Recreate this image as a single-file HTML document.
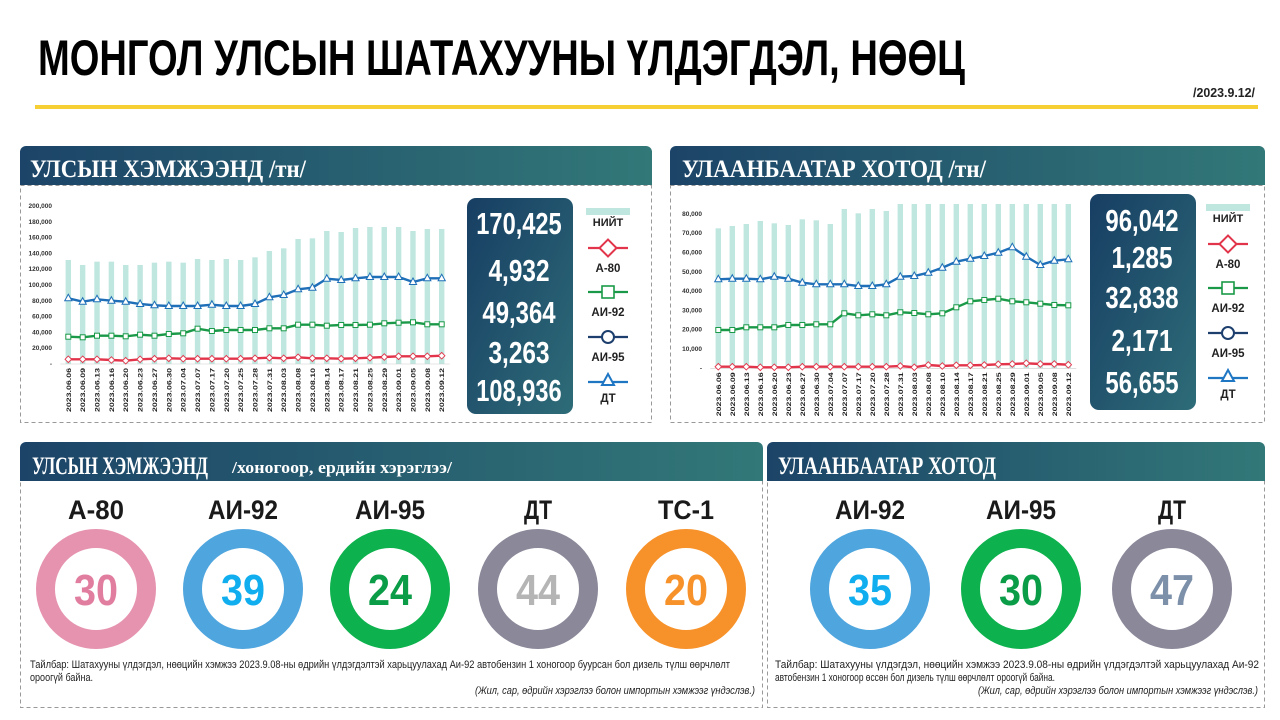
<!DOCTYPE html>
<html><head><meta charset="utf-8"><style>
html,body{margin:0;padding:0;background:#fff;width:1280px;height:720px;overflow:hidden}
svg{display:block}
</style></head><body>
<svg id="s" width="1280" height="720" xmlns="http://www.w3.org/2000/svg" font-family="Liberation Sans, sans-serif">
<defs>
<linearGradient id="hg" x1="0" x2="1" y1="0" y2="0"><stop offset="0" stop-color="#1c4468"/><stop offset="1" stop-color="#327878"/></linearGradient>
<linearGradient id="bg" x1="0" x2="1" y1="0" y2="1"><stop offset="0" stop-color="#173e63"/><stop offset="1" stop-color="#2e6c78"/></linearGradient>
</defs>
<text x="38" y="75" font-size="50" font-weight="bold" textLength="927" lengthAdjust="spacingAndGlyphs" fill="#000">МОНГОЛ УЛСЫН ШАТАХУУНЫ ҮЛДЭГДЭЛ, НӨӨЦ</text>
<text x="1255" y="97" font-size="13" font-weight="bold" text-anchor="end" textLength="62" lengthAdjust="spacingAndGlyphs" fill="#222">/2023.9.12/</text>
<rect x="35" y="105" width="1223" height="4" fill="#f5cf34"/>

<rect x="20.5" y="185.5" width="631" height="237" fill="none" stroke="#999" stroke-dasharray="4,3"/>
<path d="M20 185 V152 a6 6 0 0 1 6 -6 H646 a6 6 0 0 1 6 6 V185Z" fill="url(#hg)"/>
<text x="30" y="177" font-family="Liberation Serif, serif" font-weight="bold" font-size="25" fill="#fff" textLength="276" lengthAdjust="spacingAndGlyphs">УЛСЫН ХЭМЖЭЭНД /тн/</text>
<rect x="670.5" y="185.5" width="594" height="237" fill="none" stroke="#999" stroke-dasharray="4,3"/>
<path d="M670 185 V152 a6 6 0 0 1 6 -6 H1259 a6 6 0 0 1 6 6 V185Z" fill="url(#hg)"/>
<text x="682" y="177" font-family="Liberation Serif, serif" font-weight="bold" font-size="25" fill="#fff" textLength="304" lengthAdjust="spacingAndGlyphs">УЛААНБААТАР ХОТОД /тн/</text>

<rect x="20.5" y="480.5" width="742" height="227" fill="none" stroke="#999" stroke-dasharray="4,3"/>
<path d="M20 481 V448 a6 6 0 0 1 6 -6 H757 a6 6 0 0 1 6 6 V481Z" fill="url(#hg)"/>
<text x="32" y="474" font-family="Liberation Serif, serif" font-weight="bold" font-size="25" fill="#fff" textLength="176" lengthAdjust="spacingAndGlyphs">УЛСЫН ХЭМЖЭЭНД</text>
<text x="232" y="473" font-family="Liberation Serif, serif" font-weight="bold" font-size="17" fill="#fff" textLength="220" lengthAdjust="spacingAndGlyphs">/хоногоор, ердийн хэрэглээ/</text>
<rect x="767.5" y="480.5" width="497" height="227" fill="none" stroke="#999" stroke-dasharray="4,3"/>
<path d="M767 481 V448 a6 6 0 0 1 6 -6 H1259 a6 6 0 0 1 6 6 V481Z" fill="url(#hg)"/>
<text x="778" y="474" font-family="Liberation Serif, serif" font-weight="bold" font-size="25" fill="#fff" textLength="218" lengthAdjust="spacingAndGlyphs">УЛААНБААТАР ХОТОД</text>

<rect x="467" y="198" width="106" height="216" rx="9" fill="url(#bg)"/>
<rect x="1090" y="194" width="106" height="216" rx="9" fill="url(#bg)"/>
<g id="g"></g>

<text x="30" y="668" font-size="11" fill="#222" textLength="700" lengthAdjust="spacingAndGlyphs">Тайлбар: Шатахууны үлдэгдэл, нөөцийн хэмжээ 2023.9.08-ны өдрийн үлдэгдэлтэй харьцуулахад Аи-92 автобензин 1 хоногоор буурсан бол дизель түлш өөрчлөлт</text>
<text x="30" y="681" font-size="11" fill="#222" textLength="63" lengthAdjust="spacingAndGlyphs">ороогүй байна.</text>
<text x="755" y="694" font-size="11" font-style="italic" fill="#222" text-anchor="end" textLength="280" lengthAdjust="spacingAndGlyphs">(Жил, сар, өдрийн хэрэглээ болон импортын хэмжээг үндэслэв.)</text>
<text x="775" y="668" font-size="11" fill="#222" textLength="484" lengthAdjust="spacingAndGlyphs">Тайлбар: Шатахууны үлдэгдэл, нөөцийн хэмжээ 2023.9.08-ны өдрийн үлдэгдэлтэй харьцуулахад Аи-92</text>
<text x="775" y="681" font-size="11" fill="#222" textLength="280" lengthAdjust="spacingAndGlyphs">автобензин 1 хоногоор өссөн бол дизель түлш өөрчлөлт ороогүй байна.</text>
<text x="1258" y="694" font-size="11" font-style="italic" fill="#222" text-anchor="end" textLength="280" lengthAdjust="spacingAndGlyphs">(Жил, сар, өдрийн хэрэглээ болон импортын хэмжээг үндэслэв.)</text>
</svg>
<script>
var g=document.getElementById('g'),h='';
function T(x,y,s,t,o){h+='<text x="'+x+'" y="'+y+'" font-size="'+s+'" '+(o||'')+'>'+t+'</text>';}
var d1=['06.06','06.09','06.13','06.16','06.20','06.23','06.27','06.30','07.04','07.07','07.17','07.20','07.25','07.28','07.31','08.03','08.08','08.10','08.14','08.17','08.21','08.25','08.29','09.01','09.05','09.08','09.12'];
var b1=[210,225,215,215,225,225,218,215,218,207,210,207,210,202,183,175,147,145,123,126,114,111,111,111,123,117,117];
var dt1=[325,335,328,332,335,342,346,348,348,348,344,348,348,342,322,315,298,293,266,270,265,261,261,261,276,265,265];
var a92=[440,442,437,437,439,434,437,432,430,416,423,420,420,420,415,415,404,404,407,405,405,404,400,398,397,403,403];
var a80=[508,508,508,510,512,508,506,505,506,506,506,506,506,505,503,505,502,505,505,506,505,503,501,499,499,499,497];
function chart(d,b,dt,g2,r,x0,dx,zy,y0,zero,ylabs,ystep,ylx){
  var i,x;
  for(i=0;i<ylabs.length;i++){T(ylx,zero-i*ystep+2,6.5,ylabs[i],'text-anchor="end" fill="#333" font-weight="bold"');}
  for(i=0;i<d.length;i++){x=x0+i*dx;var top=zy(b[i]);h+='<rect x="'+(x-2.7)+'" y="'+top+'" width="5.4" height="'+(zero-top)+'" fill="#bfe6df"/>';}
  h+='<line x1="'+(x0-8)+'" x2="'+(x0+(d.length-1)*dx+8)+'" y1="'+zero+'" y2="'+zero+'" stroke="#ccc" stroke-width="0.6"/>';
  function line(arr,c){var p=[];for(var i=0;i<arr.length;i++)p.push((x0+i*dx).toFixed(1)+','+zy(arr[i]).toFixed(1));h+='<polyline points="'+p.join(' ')+'" fill="none" stroke="'+c+'" stroke-width="2.4"/>';return p;}
  var p=line(r,'#e2344a');p.forEach(function(q){q=q.split(',');h+='<rect x="'+(q[0]-2.3)+'" y="'+(q[1]-2.3)+'" width="4.6" height="4.6" fill="#fff" stroke="#e2344a" stroke-width="0.9" transform="rotate(45 '+q[0]+' '+q[1]+')"/>';});
  p=line(g2,'#1a9a48');p.forEach(function(q){q=q.split(',');h+='<rect x="'+(q[0]-2.5)+'" y="'+(q[1]-2.5)+'" width="5" height="5" fill="#fff" stroke="#1a9a48" stroke-width="1"/>';});
  p=line(dt,'#1f6fb8');p.forEach(function(q){q=q.split(',');var X=+q[0],Y=+q[1];h+='<polygon points="'+X+','+(Y-4)+' '+(X+3.6)+','+(Y+2.5)+' '+(X-3.6)+','+(Y+2.5)+'" fill="#fff" stroke="#1f6fb8" stroke-width="1"/>';});
  for(i=0;i<d.length;i++){x=x0+i*dx;h+='<text transform="translate('+(x+2.5)+','+(zero+48)+') rotate(-90)" font-size="6.5" font-weight="bold" fill="#222" textLength="44" lengthAdjust="spacingAndGlyphs">2023.'+d[i]+'</text>';}
}
chart(d1,b1,dt1,a92,a80,68.3,(441.7-68.3)/26,function(z){return 190+z/3;},0,364,
 ['-','20,000','40,000','60,000','80,000','100,000','120,000','140,000','160,000','180,000','200,000'],15.8,52);
var d2=['06.06','06.09','06.13','06.16','06.20','06.23','06.27','06.30','07.04','07.07','07.17','07.20','07.28','07.31','08.03','08.08','08.10','08.14','08.17','08.21','08.25','08.29','09.01','09.05','09.08','09.12'];
var b2=[115,108,102,93,100,105,88,91,102,57,70,57,63,42,42,42,42,42,42,42,42,42,42,42,42,42];
var dt2=[268,266,266,268,260,266,278,283,283,283,288,288,283,260,258,248,233,215,206,198,188,172,200,225,212,208];
var b92=[420,420,412,412,412,405,405,403,403,370,376,373,376,367,369,373,370,352,334,330,326,334,337,341,345,346];
var b80=[530,530,530,532,532,532,530,530,530,530,530,530,530,528,532,525,528,526,526,525,523,522,520,522,522,524];
chart(d2,b2,dt2,b92,b80,718.3,350/25,function(z){return 190+z/3;},0,368.3,
 ['-','10,000','20,000','30,000','40,000','50,000','60,000','70,000','80,000'],19.3,702);
function nums(cx,ys,v){for(var i=0;i<v.length;i++)T(cx,ys[i],31,v[i],'text-anchor="middle" font-weight="bold" fill="#fff" textLength="'+(v[i].length*12.2)+'" lengthAdjust="spacingAndGlyphs"');}
nums(519,[234,281,323,363,401],['170,425','4,932','49,364','3,263','108,936']);
nums(1142,[231,268,308,351,393],['96,042','1,285','32,838','2,171','56,655']);
function legend(x,y){
  h+='<rect x="'+(x-22)+'" y="'+(y-18)+'" width="44" height="7" fill="#bfe6df"/>';
  T(x,y,11,'НИЙТ','text-anchor="middle" font-weight="bold" fill="#222"');
  var c=['#e2344a','#1a9a48','#1d3f6e','#1f77c4'],n=['А-80','АИ-92','АИ-95','ДТ'],my=[y+22,y+66,y+111,y+156];
  for(var i=0;i<4;i++){var Y=my[i];h+='<line x1="'+(x-20)+'" x2="'+(x+20)+'" y1="'+Y+'" y2="'+Y+'" stroke="'+c[i]+'" stroke-width="2.2"/>';
   if(i==0)h+='<rect x="'+(x-6)+'" y="'+(Y-6)+'" width="12" height="12" fill="#fff" stroke="'+c[i]+'" stroke-width="2" transform="rotate(45 '+x+' '+Y+')"/>';
   if(i==1)h+='<rect x="'+(x-6)+'" y="'+(Y-6)+'" width="12" height="12" fill="#fff" stroke="'+c[i]+'" stroke-width="1.6"/>';
   if(i==2)h+='<circle cx="'+x+'" cy="'+Y+'" r="6" fill="#fff" stroke="'+c[i]+'" stroke-width="2"/>';
   if(i==3)h+='<polygon points="'+x+','+(Y-8)+' '+(x+6)+','+(Y+3)+' '+(x-6)+','+(Y+3)+'" fill="#fff" stroke="'+c[i]+'" stroke-width="2"/>';
   T(x,Y+24-(i==3?4:0),11.5,n[i],'text-anchor="middle" font-weight="bold" fill="#222"');}
}
legend(608,226);legend(1228,222);
function donut(cx,lab,val,rc,tc){
  T(cx,519,27,lab,'text-anchor="middle" font-weight="bold" fill="#1a1a1a" textLength="'+(lab.length*14)+'" lengthAdjust="spacingAndGlyphs"');
  h+='<circle cx="'+cx+'" cy="589" r="50.5" fill="none" stroke="'+rc+'" stroke-width="19"/>';
  T(cx,605,44,val,'text-anchor="middle" font-weight="bold" fill="'+tc+'" textLength="44" lengthAdjust="spacingAndGlyphs"');
}
donut(96,'А-80','30','#e693b0','#e17ea0');
donut(243,'АИ-92','39','#4fa5de','#10aeef');
donut(390,'АИ-95','24','#0db14d','#0a9c46');
donut(538,'ДТ','44','#8a8899','#b5b5b5');
donut(686,'ТС-1','20','#f7922b','#f7922b');
donut(870,'АИ-92','35','#4fa5de','#10aeef');
donut(1021,'АИ-95','30','#0db14d','#0a9c46');
donut(1172,'ДТ','47','#8a8899','#7d90aa');
g.innerHTML=h;
</script>
</body></html>
